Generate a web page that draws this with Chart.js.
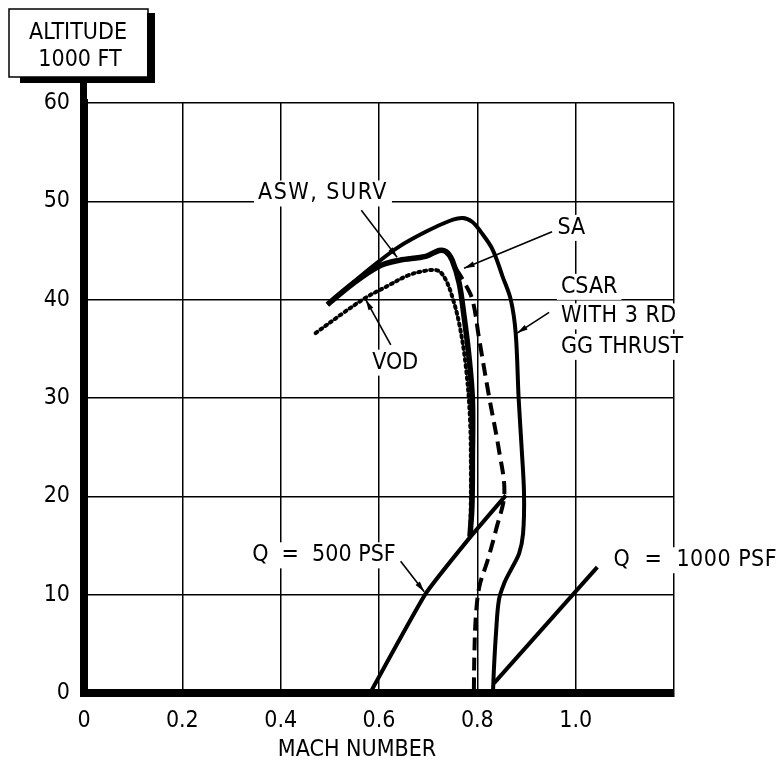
<!DOCTYPE html>
<html>
<head>
<meta charset="utf-8">
<script src="https://cdn.jsdelivr.net/npm/chart.js@4.4.1/dist/chart.umd.min.js"></script>
<style>
  html, body { margin: 0; padding: 0; background: #fff; }
  canvas { display: block; }
</style>
</head>
<body>
<canvas id="machChart" width="781" height="771"></canvas>
<script>
// Mach number / altitude (1000 ft)
const csarMach = [0.495, 0.546, 0.600, 0.641, 0.695, 0.743, 0.770, 0.790, 0.807, 0.831, 0.851, 0.868, 0.878, 0.884, 0.890, 0.895, 0.893, 0.885, 0.868, 0.855, 0.844, 0.838, 0.834, 0.832];
const csarAlt  = [39.5, 41.7, 43.9, 45.4, 46.9, 48.0, 48.3, 47.9, 46.9, 45.1, 42.4, 40.0, 36.6, 30.0, 25.0, 20.2, 16.2, 14.2, 12.5, 11.2, 9.5, 6.1, 2.7, 0.3];

const aswMach = [0.495, 0.546, 0.600, 0.641, 0.695, 0.722, 0.736, 0.749, 0.763, 0.773, 0.783, 0.790, 0.790, 0.789, 0.785];
const aswAlt  = [39.5, 41.6, 43.4, 44.0, 44.4, 45.0, 44.9, 44.0, 41.7, 38.3, 34.2, 29.8, 24.0, 19.0, 15.9];

const saMach = [0.756, 0.773, 0.790, 0.804, 0.824, 0.844, 0.855, 0.838, 0.821, 0.804, 0.797, 0.794, 0.793];
const saAlt  = [43.2, 41.8, 40.0, 35.9, 30.1, 24.7, 20.3, 16.6, 13.5, 10.8, 7.8, 4.0, 0.3];

const vodMach = [0.471, 0.526, 0.573, 0.614, 0.661, 0.702, 0.722, 0.736, 0.749, 0.763, 0.776, 0.785, 0.787, 0.786];
const vodAlt  = [36.6, 38.6, 40.2, 41.3, 42.5, 43.0, 42.9, 42.0, 40.3, 37.6, 33.5, 28.0, 22.0, 16.5];

const q500Mach = [0.583, 0.695, 0.783, 0.858];
const q500Alt  = [0.1, 10.1, 15.7, 20.1];

const q1000Mach = [0.834, 1.044];
const q1000Alt  = [1.0, 12.8];

const xTicks = [0, 0.2, 0.4, 0.6, 0.8, 1.0, 1.2];
const yTicks = [0, 10, 20, 30, 40, 50, 60];

// labels: text, mach, altitude, align, letter spacing
const labels = [
  ['ASW, SURV', 0.486, 50.8, 'center', 1.5],
  ['SA', 0.991, 47.3, 'center', 0],
  ['CSAR', 0.970, 41.3, 'left', 0],
  ['WITH 3 RD', 0.970, 38.3, 'left', 0.5],
  ['GG THRUST', 0.970, 35.2, 'left', 0],
  ['VOD', 0.633, 33.6, 'center', 0],
  ['Q  =  500 PSF', 0.488, 14.0, 'center', 0],
  ['Q  =  1000 PSF', 1.077, 13.5, 'left', 0.5]
];
// leader lines: from mach, from alt, to mach, to alt
const leaders = [
  [0.564, 49.1, 0.637, 44.3],
  [0.952, 46.9, 0.773, 43.2],
  [0.946, 38.7, 0.881, 36.6],
  [0.624, 35.4, 0.573, 40.0],
  [0.644, 13.4, 0.692, 10.3]
];

const FONT = '"Liberation Sans Narrow", "DejaVu Sans Condensed", "Roboto Condensed", sans-serif';

function pts(xs, ys) {
  return xs.map(function (x, i) { return { x: x, y: ys[i] }; });
}

function curve(data, width, dash, tension) {
  return {
    data: data,
    showLine: true,
    borderColor: '#000',
    backgroundColor: '#000',
    borderWidth: width,
    borderDash: dash || [],
    borderCapStyle: dash && dash[0] <= 3 ? 'round' : 'butt',
    pointRadius: 0,
    tension: tension === undefined ? 0.35 : tension,
    fill: false
  };
}

const decorations = {
  id: 'decorations',
  beforeDatasetsDraw: function (chart) {
    const ctx = chart.ctx;
    const xs = chart.scales.x, ys = chart.scales.y;
    ctx.save();
    ctx.font = '23px ' + FONT;
    ctx.textBaseline = 'middle';
    labels.forEach(function (l) {
      const px = xs.getPixelForValue(l[1]);
      const py = ys.getPixelForValue(l[2]);
      ctx.letterSpacing = l[4] + 'px';
      const w = ctx.measureText(l[0]).width;
      const left = l[3] === 'center' ? px - w / 2 : px;
      ctx.fillStyle = '#fff';
      ctx.fillRect(left - 4, py - 13, w + 8, 26);
      ctx.fillStyle = '#000';
      ctx.textAlign = l[3];
      ctx.fillText(l[0], px, py);
    });
    ctx.restore();
  },
  afterDatasetsDraw: function (chart) {
    const ctx = chart.ctx;
    const xs = chart.scales.x, ys = chart.scales.y;
    ctx.save();
    ctx.strokeStyle = '#000';
    ctx.fillStyle = '#000';
    ctx.lineWidth = 1.6;
    leaders.forEach(function (a) {
      const x0 = xs.getPixelForValue(a[0]), y0 = ys.getPixelForValue(a[1]);
      const x1 = xs.getPixelForValue(a[2]), y1 = ys.getPixelForValue(a[3]);
      ctx.beginPath();
      ctx.moveTo(x0, y0);
      ctx.lineTo(x1, y1);
      ctx.stroke();
      const ang = Math.atan2(y1 - y0, x1 - x0);
      ctx.beginPath();
      ctx.moveTo(x1, y1);
      ctx.lineTo(x1 - 11 * Math.cos(ang - 0.25), y1 - 11 * Math.sin(ang - 0.25));
      ctx.lineTo(x1 - 11 * Math.cos(ang + 0.25), y1 - 11 * Math.sin(ang + 0.25));
      ctx.closePath();
      ctx.fill();
    });

    // axis title box in the corner
    ctx.fillRect(147, 13, 8, 70);
    ctx.fillRect(20, 77, 135, 6);
    ctx.fillStyle = '#fff';
    ctx.fillRect(9, 9, 138, 68);
    ctx.lineWidth = 1.5;
    ctx.strokeRect(9, 9, 139, 68);
    ctx.fillStyle = '#000';
    ctx.fillRect(80, 80, 7, 25);
    ctx.font = '23px ' + FONT;
    ctx.textAlign = 'center';
    ctx.textBaseline = 'middle';
    ctx.fillText('ALTITUDE', 78, 33);
    ctx.fillText('1000 FT', 80, 60);
    ctx.fillText('MACH NUMBER', 357, 750);
    ctx.restore();
  }
};

const ctx = document.getElementById('machChart').getContext('2d');
new Chart(ctx, {
  type: 'scatter',
  data: {
    datasets: [
      curve(pts(csarMach, csarAlt), 4),
      curve(pts(aswMach, aswAlt), 5.5),
      curve(pts(saMach, saAlt), 4, [13, 7]),
      curve(pts(vodMach, vodAlt), 4, [2, 4]),
      curve(pts(q500Mach, q500Alt), 4, null, 0.15),
      curve(pts(q1000Mach, q1000Alt), 4, null, 0)
    ]
  },
  options: {
    responsive: false,
    animation: false,
    layout: { padding: { left: 0, top: 103, right: 107, bottom: 0 } },
    plugins: {
      legend: { display: false },
      tooltip: { enabled: false }
    },
    scales: {
      x: {
        type: 'linear',
        min: 0,
        max: 1.2,
        afterBuildTicks: function (scale) {
          scale.ticks = xTicks.map(function (v) { return { value: v }; });
        },
        afterFit: function (scale) { scale.height = 78; },
        border: { display: true, width: 8, color: '#000' },
        grid: { color: '#000', lineWidth: 1.5, drawTicks: false },
        ticks: {
          color: '#000',
          padding: 14,
          font: { family: FONT, size: 23 },
          callback: function (v) {
            if (v === 0) return '0';
            if (v > 1.1) return '';
            return v.toFixed(1);
          }
        }
      },
      y: {
        type: 'linear',
        min: 0,
        max: 60,
        afterBuildTicks: function (scale) {
          scale.ticks = yTicks.map(function (v) { return { value: v }; });
        },
        afterFit: function (scale) { scale.width = 84; },
        border: { display: true, width: 8, color: '#000' },
        grid: { color: '#000', lineWidth: 1.5, drawTicks: false },
        ticks: {
          color: '#000',
          padding: 14,
          font: { family: FONT, size: 23 }
        }
      }
    }
  },
  plugins: [decorations]
});
</script>
</body>
</html>
